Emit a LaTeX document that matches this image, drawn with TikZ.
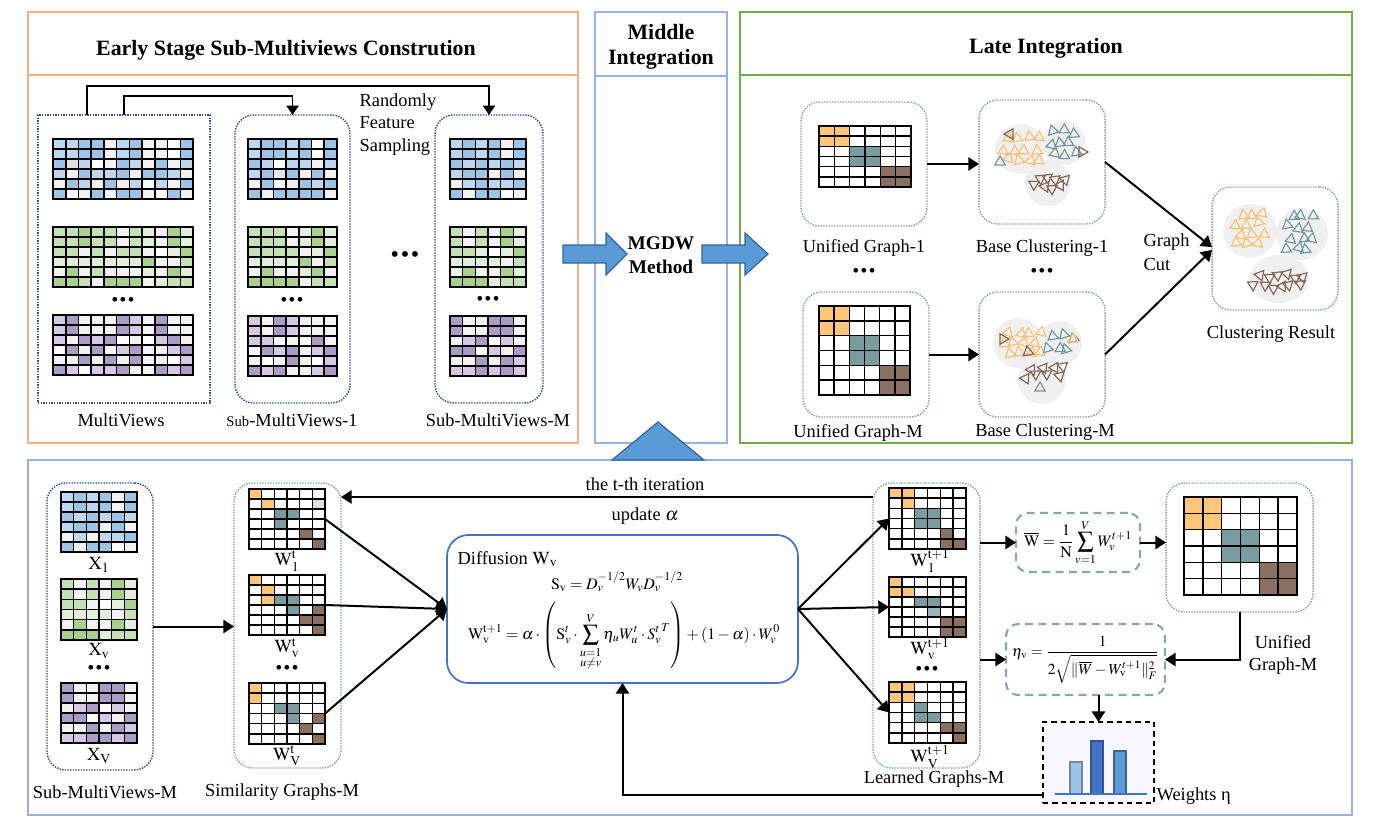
\documentclass[tikz,border=0pt]{standalone}
\usepackage{amsmath}
\usepackage{mathptmx}
\usepackage{fontspec}
\setmainfont{Liberation Serif}
\usetikzlibrary{arrows.meta,calc,fit}
\definecolor{panO}{RGB}{244,177,131}
\definecolor{panB}{RGB}{150,178,226}
\definecolor{panG}{RGB}{112,173,71}
\definecolor{dotB}{RGB}{47,85,151}
\definecolor{dotT}{RGB}{132,168,176}
\definecolor{arrF}{RGB}{91,155,213}
\definecolor{arrD}{RGB}{50,100,160}
\definecolor{diffB}{RGB}{68,114,196}
\definecolor{W}{RGB}{255,255,255}
\definecolor{G}{RGB}{242,242,242}
\definecolor{E}{RGB}{224,224,224}
\definecolor{A}{RGB}{189,215,238}
\definecolor{B}{RGB}{157,195,230}
\definecolor{C}{RGB}{222,235,247}
\definecolor{L}{RGB}{226,239,218}
\definecolor{M}{RGB}{197,224,180}
\definecolor{N}{RGB}{169,209,142}
\definecolor{P}{RGB}{212,200,228}
\definecolor{Q}{RGB}{171,155,199}
\definecolor{O}{RGB}{255,197,120}
\definecolor{T}{RGB}{122,156,160}
\definecolor{S}{RGB}{150,180,185}
\definecolor{R}{RGB}{137,112,96}
\definecolor{clO}{RGB}{255,190,110}
\definecolor{clT}{RGB}{110,150,158}
\definecolor{clR}{RGB}{130,100,85}
\definecolor{clbg}{RGB}{240,240,240}
\definecolor{wbg}{RGB}{249,247,255}
\definecolor{barA}{RGB}{157,195,230}
\definecolor{barB}{RGB}{68,114,196}
\definecolor{barC}{RGB}{91,155,213}
\newcommand{\cgrid}[8]{%
  \foreach \rw [count=\ri from 0] in {#8} {
    \foreach \cc [count=\ci from 0] in \rw {
      \filldraw[fill=\cc, draw=black, line width=1.2pt] ({#2+\ci*#4},{#3+\ri*#5}) rectangle ++(#4,#5);
    }
  }
  \node[inner sep=0pt, outer sep=0pt, fit={(#2,#3) ({#2+#6*#4},{#3+#7*#5})}] (#1) {};
}
% cx cy ncol nrow dx dy color angle seed
\newcommand{\clust}[9]{%
  \pgfmathsetseed{#9}%
  \foreach \rr in {1,...,#4}{%
    \foreach \kk in {1,...,#3}{%
      \pgfmathsetmacro{\tx}{#1+(\kk-(#3+1)/2)*#5+(mod(\rr,2)-0.5)*#5*0.45+rand*2.5}%
      \pgfmathsetmacro{\ty}{#2+(\rr-(#4+1)/2)*#6+rand*2.5}%
      \pgfmathsetmacro{\ta}{#8+rand*18}%
      \draw[#7, line width=0.85pt] (\tx,\ty) ++(\ta:6) -- ++(\ta+150:10.4) -- ++(\ta+270:10.4) -- cycle;
    }%
  }%
}
\newcommand{\onetri}[4]{%
  \draw[#4, line width=0.85pt] (#1,#2) ++(#3:6) -- ++(#3+150:10.4) -- ++(#3+270:10.4) -- cycle;
}
\begin{document}
\begin{tikzpicture}[x=0.75pt,y=-0.75pt,
  font=\fontsize{13.8}{16}\selectfont,
  sz/.style 2 args={minimum width=#1*0.75pt, minimum height=#2*0.75pt},
  box/.style={inner sep=0pt, outer sep=0pt},
  panel/.style={box, draw, line width=1.5pt},
  ttl/.style={font=\fontsize{16.4}{20}\selectfont\bfseries, align=center},
  dotsq/.style={box, draw=dotB, line width=1.1pt, dash pattern=on 1.1pt off 0.9pt},
  dotrB/.style={dotsq, rounded corners=14pt},
  dotrT/.style={box, draw=dotT, line width=1.1pt, dash pattern=on 1.1pt off 0.9pt, rounded corners=14pt},
  dbox/.style={box, draw=dotT, line width=1.6pt, dash pattern=on 6pt off 4pt, rounded corners=9pt},
  conn/.style={line width=1.5pt, -{Triangle[length=8pt,width=10pt]}},
  thin/.style={line width=1.4pt, -{Triangle[length=7pt,width=9pt]}},
  blockarr/.style={fill=arrF, draw=arrD, line width=0.9pt},
  lbl/.style={inner sep=1pt},
  eqf/.style={inner sep=1pt, font=\fontsize{12}{14}\selectfont},
  dots/.style={inner sep=0pt, font=\fontsize{13}{14}\selectfont\bfseries}
]
\useasboundingbox (0,0) rectangle (1376,828);

% ---------------- panels ----------------
\node[panel, draw=panO, sz={550}{431}] (pE) at (303,227.5) {};
\draw[panO, line width=1.5pt] (pE.west |- 0,75) -- (pE.east |- 0,75);
\node[ttl] (tE) at (286,50) {Early Stage Sub-Multiviews Constrution};

\node[panel, draw=panB, sz={132}{431}] (pM) at (661,227.5) {};
\draw[panB, line width=1.5pt] (pM.west |- 0,76) -- (pM.east |- 0,76);
\node[ttl, font=\fontsize{16.4}{19}\selectfont\bfseries] (tM) at (661,47) {Middle\\Integration};

\node[panel, draw=panG, sz={612}{431}] (pL) at (1046,227.5) {};
\draw[panG, line width=1.5pt] (pL.west |- 0,75) -- (pL.east |- 0,75);
\node[ttl] (tL) at (1046,48) {Late Integration};

\node[panel, draw=panB, sz={1324}{355}] (pB) at (690,637.5) {};
\draw[blockarr] (612,460) -- (658,422) -- (704,460) -- cycle;

% ---------------- early stage ----------------
\node[dotsq, sz={172}{288}] (mv) at (124,259) {};
\node[dotrB, sz={115}{288}] (s1) at (292.5,259) {};
\node[dotrB, sz={108}{288}] (sM) at (489,259) {};

\draw[thin] ($(mv.north west)+(49,0)$) -- ++(0,-29) -| (sM.north);
\draw[thin] ($(mv.north west)+(86,0)$) -- ++(0,-19) -| (s1.north);

\node[lbl, anchor=north west, align=left, font=\fontsize{13.8}{16.8}\selectfont] (rfs) at (358,92) {Randomly\\Feature\\Sampling};

\cgrid{mvb}{53}{139}{12.73}{10}{11}{6}{{A,A,B,B,G,A,B,G,G,W,B},{A,A,B,B,G,A,B,G,G,W,B},{B,E,A,W,G,B,A,G,B,G,A},{A,G,B,A,A,B,G,B,B,A,G},{G,B,A,G,B,G,A,W,A,G,B},{B,W,G,B,G,B,B,G,W,B,G}}
\cgrid{mvg}{53}{227}{12.73}{10}{11}{6}{{M,M,N,M,M,G,M,L,G,N,L},{M,M,N,M,M,G,M,L,G,N,L},{M,M,G,M,G,M,M,G,W,L,N},{L,L,L,L,L,L,L,N,G,G,M},{G,N,G,M,G,G,G,L,G,N,L},{N,N,M,G,N,N,N,G,L,M,M}}
\cgrid{mvp}{53}{315}{12.73}{10}{11}{6}{{P,Q,G,G,G,Q,P,G,Q,G,G},{P,Q,G,G,G,Q,P,G,Q,G,G},{P,G,Q,P,Q,W,G,W,P,Q,G},{W,Q,G,Q,W,P,Q,G,G,P,Q},{G,G,Q,G,Q,G,Q,G,G,W,P},{Q,P,W,P,P,Q,G,G,Q,P,Q}}
\node[dots] (mvd) at (123,301) {•\kern1.5pt•\kern1.5pt•};

\cgrid{s1b}{248}{139}{12.71}{10}{7}{6}{{A,B,B,A,B,W,B},{A,B,B,A,B,W,B},{B,A,W,A,A,G,A},{A,B,C,B,G,B,G},{G,B,G,G,B,A,B},{B,G,B,B,B,B,G}}
\cgrid{s1g}{248}{227}{12.71}{10}{7}{6}{{M,M,M,G,L,N,L},{M,M,M,G,L,N,L},{M,M,M,M,G,L,N},{L,L,L,L,N,G,M},{G,N,G,G,L,N,G},{N,N,N,N,G,M,M}}
\cgrid{s1p}{248}{316}{12.71}{10}{7}{6}{{P,G,Q,P,G,G,G},{P,G,Q,P,G,G,G},{P,P,W,G,W,Q,G},{W,Q,P,Q,G,P,Q},{G,W,G,Q,G,W,P},{Q,P,Q,G,G,P,Q}}
\node[dots] (s1d) at (292,301) {•\kern1.5pt•\kern1.5pt•};

\cgrid{smb}{450}{139}{12.67}{10}{6}{6}{{A,B,A,B,G,B},{A,B,A,B,G,B},{B,A,B,A,B,A},{A,B,B,G,B,G},{G,A,B,A,A,B},{B,G,B,B,W,G}}
\cgrid{smg}{450}{227}{12.67}{10}{6}{6}{{M,G,M,G,N,L},{M,G,M,G,N,L},{M,M,L,W,L,N},{L,L,L,L,G,M},{G,N,G,G,N,L},{N,N,N,L,M,M}}
\cgrid{smp}{450}{316}{12.67}{10}{6}{6}{{Q,G,G,Q,Q,G},{Q,G,G,Q,Q,G},{G,P,Q,W,P,G},{Q,Q,W,P,G,Q},{G,G,Q,G,Q,P},{P,P,Q,P,Q,P}}
\node[dots] (smd) at (488,300) {•\kern1.5pt•\kern1.5pt•};

\node[dots, font=\fontsize{16}{16}\selectfont\bfseries] (midd) at (405,257) {•\kern2pt•\kern2pt•};

\node[lbl] (lmv) at (121,420) {MultiViews};
\node[lbl] (ls1) at (292,420) {{\fontsize{11}{13}\selectfont Sub}-MultiViews-1};
\node[lbl] (lsM) at (498,420) {Sub-MultiViews-M};

% block arrows
\draw[blockarr] (563,245) -- (606,245) -- (606,233) -- (627,254) -- (606,275) -- (606,263) -- (563,263) -- cycle;
\draw[blockarr] (702,245) -- (745,245) -- (745,233) -- (768,254) -- (745,275) -- (745,263) -- (702,263) -- cycle;
\node[ttl, font=\fontsize{14.5}{18}\selectfont\bfseries] (mgdw) at (661,255) {MGDW\\Method};

% ---------------- late integration ----------------
\node[dotrT, sz={126}{124}] (ug1) at (864,164) {};
\node[dotrT, sz={126}{124}] (bc1) at (1042,162) {};
\node[dotrT, sz={126}{125}] (ugM) at (866,354.5) {};
\node[dotrT, sz={126}{125}] (bcM) at (1042,354.5) {};
\node[dotrT, sz={126}{123}] (cr) at (1275,248.5) {};

\cgrid{gu1}{819}{126}{15.33}{10.17}{6}{6}{{O,O,W,W,W,W},{O,O,W,W,W,W},{W,W,T,T,W,W},{W,W,T,T,W,W},{W,W,W,W,R,R},{W,W,W,W,R,R}}
\cgrid{guM}{819}{306}{15.17}{14.83}{6}{6}{{O,O,W,W,W,W},{O,O,W,W,W,W},{W,W,T,T,W,W},{W,W,T,T,W,W},{W,W,W,W,R,R},{W,W,W,W,R,R}}

% clusters 1
\fill[clbg] (1020,149) circle (25);
\fill[clbg] (1064,143) circle (22);
\fill[clbg] (1048,183) circle (23);
\clust{1021}{149}{4}{3}{11}{11}{clO}{270}{11}
\clust{1063}{143}{3}{3}{10}{11}{clT}{270}{23}
\clust{1050}{182}{4}{2}{9}{9}{clR}{75}{37}
\onetri{1010}{134}{60}{clR}
\onetri{1082}{152}{0}{clR}
\onetri{1000}{162}{270}{clT}
% clusters M
\fill[clbg] (1018,343) circle (25);
\fill[clbg] (1060,343) circle (22);
\fill[clbg] (1042,380) circle (24);
\clust{1022}{342}{4}{3}{10}{10}{clO}{270}{41}
\clust{1060}{342}{3}{2}{9}{10}{clT}{270}{53}
\clust{1045}{372}{4}{2}{10}{8}{clR}{75}{67}
\onetri{1003}{339}{0}{clR}
\onetri{1028}{352}{20}{clR}
\onetri{1073}{339}{270}{clO}
\onetri{1040}{388}{270}{clT}
% cluster result
\fill[clbg] (1250,231) circle (27);
\fill[clbg] (1302,234) circle (26);
\fill[clbg] (1279,279) ellipse (30 and 24);
\clust{1251}{229}{3}{4}{11}{10}{clO}{270}{71}
\clust{1300}{233}{3}{4}{10}{11}{clT}{270}{83}
\clust{1279}{281}{6}{2}{9}{10}{clR}{75}{97}

\draw[conn] (ug1.east) -- (bc1.west |- ug1.east);
\draw[conn] (ugM.east) -- (bcM.west |- ugM.east);
\draw[conn] (bc1.east) -- ([yshift=1pt]cr.west);
\draw[conn] (bcM.east) -- ([yshift=-1pt]cr.west);

\node[lbl] (lug1) at (864,248) {Unified Graph-1};
\node[lbl] (lbc1) at (1042,248) {Base Clustering-1};
\node[dots] (dug) at (864,272) {•\kern1.5pt•\kern1.5pt•};
\node[dots] (dbc) at (1042,272) {•\kern1.5pt•\kern1.5pt•};
\node[lbl] (lugM) at (858,433) {Unified Graph-M};
\node[lbl] (lbcM) at (1045,432) {Base Clustering-M};
\node[lbl] (lcr) at (1271,334) {Clustering Result};
\node[lbl, anchor=west, align=left, font=\fontsize{13.8}{18}\selectfont] (gcut) at (1142,252) {Graph\\Cut};

% ---------------- bottom panel ----------------
\node[dotrB, sz={106}{287}] (bmv) at (100,626.5) {};
\node[dotrT, sz={107}{285}] (sim) at (287.5,625.5) {};
\node[dotrT, sz={107}{285}] (lrn) at (926.5,625.5) {};

\cgrid{x1}{61}{492}{12.67}{10}{6}{6}{{A,B,A,B,G,B},{A,B,A,B,G,B},{B,A,B,A,B,A},{A,B,B,G,B,G},{G,A,G,A,A,B},{B,G,B,B,W,G}}
\cgrid{xv}{61}{579}{12.67}{10.17}{6}{6}{{M,G,M,G,N,L},{M,G,M,G,N,L},{M,M,G,W,L,N},{L,L,L,L,G,M},{G,N,G,G,N,L},{N,N,N,L,M,M}}
\cgrid{xV}{61}{683}{12.67}{10}{6}{6}{{Q,G,G,Q,Q,G},{Q,G,G,Q,Q,G},{G,P,Q,W,P,G},{Q,Q,W,P,G,Q},{G,G,Q,G,Q,P},{P,P,Q,Q,P,Q}}
\node[lbl] (lx1) at (99,565) {$\mathrm{X}_1$};
\node[lbl] (lxv) at (99,651) {$\mathrm{X}_{\mathrm{v}}$};
\node[dots] (xd) at (99,669) {•\kern1.5pt•\kern1.5pt•};
\node[lbl] (lxV) at (99,756) {$\mathrm{X}_{\mathrm{V}}$};

\cgrid{w1}{249}{489}{12.67}{10}{6}{6}{{O,W,W,W,W,W},{W,O,W,W,W,E},{W,W,T,T,W,W},{W,W,T,W,W,W},{W,W,W,W,R,W},{W,W,W,W,W,R}}
\cgrid{wv}{249}{575}{12.67}{10}{6}{6}{{O,W,W,W,W,W},{W,O,W,W,W,W},{W,O,T,T,W,W},{W,W,W,T,W,R},{W,W,W,W,R,R},{W,W,W,W,W,R}}
\cgrid{wV}{249}{683}{12.67}{10.17}{6}{6}{{O,W,W,W,W,W},{O,W,W,W,W,W},{W,W,T,T,W,W},{W,W,W,T,W,R},{W,W,W,W,R,W},{W,W,W,W,W,R}}
\node[lbl] (lw1) at (287,561) {$\mathrm{W}_1^{\mathrm{t}}$};
\node[lbl] (lwv) at (287,648) {$\mathrm{W}_{\mathrm{v}}^{\mathrm{t}}$};
\node[dots] (wd) at (287,669) {•\kern1.5pt•\kern1.5pt•};
\node[lbl] (lwV) at (287,756) {$\mathrm{W}_{\mathrm{V}}^{\mathrm{t}}$};

\cgrid{n1}{889}{488}{12.83}{10.17}{6}{6}{{O,O,W,W,W,W},{W,O,W,W,W,W},{W,W,T,T,W,W},{W,W,T,T,W,W},{W,W,W,W,R,W},{W,W,W,W,R,R}}
\cgrid{nv}{889}{577}{12.83}{10}{6}{6}{{O,W,W,W,W,W},{O,O,W,W,W,W},{W,W,T,T,W,W},{W,W,W,S,W,W},{W,W,W,W,R,R},{W,W,W,W,R,R}}
\cgrid{nV}{889}{682}{12.83}{10.17}{6}{6}{{O,O,W,W,W,W},{O,O,W,W,W,W},{W,W,T,W,W,W},{W,W,T,T,W,W},{W,W,W,W,R,R},{W,W,W,W,W,R}}
\node[lbl] (ln1) at (930,561) {$\mathrm{W}_1^{\mathrm{t+1}}$};
\node[lbl] (lnv) at (930,649) {$\mathrm{W}_{\mathrm{v}}^{\mathrm{t+1}}$};
\node[dots] (nd) at (927,670) {•\kern1.5pt•\kern1.5pt•};
\node[lbl] (lnV) at (930,757) {$\mathrm{W}_{\mathrm{V}}^{\mathrm{t+1}}$};

\node[lbl] (lbmv) at (105,792) {Sub-MultiViews-M};
\node[lbl] (lsim) at (282,792) {Similarity Graphs-M};
\node[lbl] (llrn) at (934,779) {Learned Graphs-M};

% diffusion box
\node[box, draw=diffB, line width=1.3pt, rounded corners=16pt, sz={351}{148}] (diff) at (622.5,609) {};
\node[lbl, anchor=west] (dtt) at (456,559) {Diffusion $\mathrm{W}_{\mathrm{v}}$};
\node[eqf] (deq1) at (617,582) {$\mathrm{S}_{\mathrm{v}} = D_v^{-1/2} W_v D_v^{-1/2}$};
\node[eqf] (deq2) at (624,636) {$\displaystyle \mathrm{W}_{\mathrm{v}}^{\mathrm{t+1}} = \alpha\cdot\left(\mathrm{S}_v^t\cdot\sum_{\substack{u=1\\ u\neq v}}^{V}\eta_u W_u^t\cdot {S_v^t}^T\right)+(1-\alpha)\cdot W_v^0$};

\draw[conn] (w1.east) -- (diff.west);
\draw[conn] (wv.east) -- (diff.west);
\draw[conn] (wV.east) -- (diff.west);
\draw[conn] (diff.east) -- (n1.west);
\draw[conn] (diff.east) -- (nv.west);
\draw[conn] (diff.east) -- (nV.west);
\draw[conn] (bmv.east) -- (sim.west |- bmv.east);

\coordinate (it) at (600,497);
\draw[conn] (lrn.west |- it) -- (sim.east |- it);
\node[lbl] (lit) at (645,484) {the t-th iteration};
\node[lbl] (lup) at (645,516) {update $\alpha$};

% right side formulas
\node[dbox, font=\fontsize{12}{14}\selectfont, sz={124}{59}] (wbar) at (1078,542.5) {$\overline{\mathrm{W}} = \dfrac{1}{\mathrm{N}}\displaystyle\sum_{v=1}^{V} W_v^{t+1}$};
\node[dbox, font=\fontsize{11.5}{13}\selectfont, sz={159}{71}] (eta) at (1085.5,659.5) {$\eta_{\mathrm{v}} = \dfrac{1}{2\sqrt{\|\overline{W}-W_{\mathrm{v}}^{t+1}\|_F^2}}$};
\node[dotrT, sz={147}{129}] (ugb) at (1239.5,547.5) {};
\cgrid{gub}{1184}{497}{18.83}{16.33}{6}{6}{{O,O,W,W,W,W},{O,O,W,W,W,W},{W,W,T,T,W,W},{W,W,T,T,W,W},{W,W,W,W,R,R},{W,W,W,W,R,R}}
\node[lbl, align=center, font=\fontsize{13.8}{17}\selectfont] (lugb) at (1283,655) {Unified\\Graph-M};

\node[box, draw=black, fill=wbg, line width=1.1pt, dash pattern=on 4pt off 3pt, sz={111}{81}] (wts) at (1098.5,762.5) {};
\draw[barA!70!black, fill=barA, line width=0.8pt] (1070,762) rectangle (1082,794);
\draw[dotB, fill=barB, line width=0.8pt] (1091,741) rectangle (1103,794);
\draw[arrD, fill=barC, line width=0.8pt] (1114,751) rectangle (1126,794);
\draw[barB, line width=1pt] (1055,794) -- (1147,794);
\node[lbl, anchor=west] (lwts) at (1155,796) {Weights η};

\draw[conn] (lrn.east |- wbar.west) -- (wbar.west);
\draw[conn] (wbar.east) -- (ugb.west |- wbar.east);
\draw[conn] (ugb.south) |- (eta.east);
\draw[conn] (lrn.east |- eta.west) -- (eta.west);
\draw[conn] (wts.north |- eta.south) -- (wts.north);
\draw[conn] (wts.west |- 0,795) -| (diff.south);
\end{tikzpicture}
\end{document}
